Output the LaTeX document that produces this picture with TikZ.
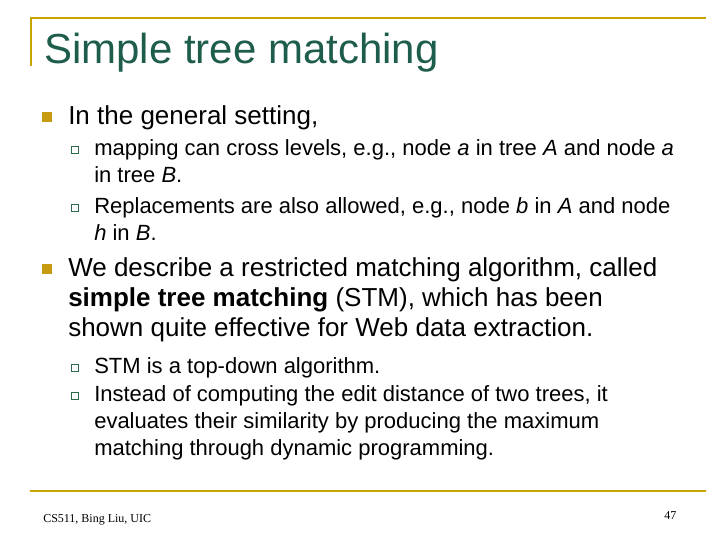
\documentclass[tikz,border=0pt]{standalone}
\usepackage{fontspec}
\setmainfont{Liberation Sans}
\newfontfamily\serifft{Liberation Serif}
\definecolor{gold}{HTML}{C8A400}
\definecolor{titlec}{HTML}{1E5C4C}
\definecolor{bulc}{HTML}{2E6B4B}
\definecolor{bulgold}{HTML}{C89A10}
\begin{document}
\begin{tikzpicture}[x=0.75pt,y=-0.75pt,
  ln/.style={anchor=base west,inner sep=0pt,font=\fontsize{19.5pt}{23pt}\selectfont},
  sl/.style={anchor=base west,inner sep=0pt,font=\fontsize{16.5pt}{19pt}\selectfont},
  bigb/.style={fill=bulgold,draw=none,minimum size=7pt,inner sep=0pt},
  smb/.style={draw=bulc,fill=white,minimum size=5pt,inner sep=0pt,line width=0.7pt}]
\useasboundingbox (0,0) rectangle (720,540);
\draw[gold,line width=2pt] (30,18) -- (706,18);
\draw[gold,line width=2pt] (31,17) -- (31,66);
\draw[gold,line width=1.2pt] (30,491) -- (706,491);
\node[anchor=base west,inner sep=0pt,text=titlec,font=\fontsize{31.5pt}{36pt}\selectfont] (t) at (44,63) {Simple tree matching};
\node[bigb] (b1) at (47,117) {};
\node[ln] (l1) at (68,124) {In the general setting,};
\node[smb] (q1) at (75,150) {};
\node[sl] (a1) at (94,155) {mapping can cross levels, e.g., node \textit{a} in tree \textit{A} and node \textit{a}};
\node[sl] (a2) at (94,182) {in tree \textit{B}.};
\node[smb] (q2) at (75,208) {};
\node[sl] (a3) at (94,213) {Replacements are also allowed, e.g., node \textit{b} in \textit{A} and node};
\node[sl] (a4) at (94,240) {\textit{h} in \textit{B}.};
\node[bigb] (b2) at (47,269) {};
\node[ln] (l2) at (68,276) {We describe a restricted matching algorithm, called};
\node[ln] (l3) at (68,306) {\textbf{simple tree matching} (STM), which has been};
\node[ln] (l4) at (68,336) {shown quite effective for Web data extraction.};
\node[smb] (q3) at (75,368) {};
\node[sl] (c1) at (94,373) {STM is a top-down algorithm.};
\node[smb] (q4) at (75,396) {};
\node[sl] (c2) at (94,401) {Instead of computing the edit distance of two trees, it};
\node[sl] (c3) at (94,428) {evaluates their similarity by producing the maximum};
\node[sl] (c4) at (94,455) {matching through dynamic programming.};
\node[anchor=base west,inner sep=0pt,font=\serifft\fontsize{9pt}{11pt}\selectfont] (f) at (43,522) {CS511, Bing Liu, UIC};
\node[anchor=base west,inner sep=0pt,font=\serifft\fontsize{9pt}{11pt}\selectfont] (p) at (664,519) {47};
\end{tikzpicture}
\end{document}
